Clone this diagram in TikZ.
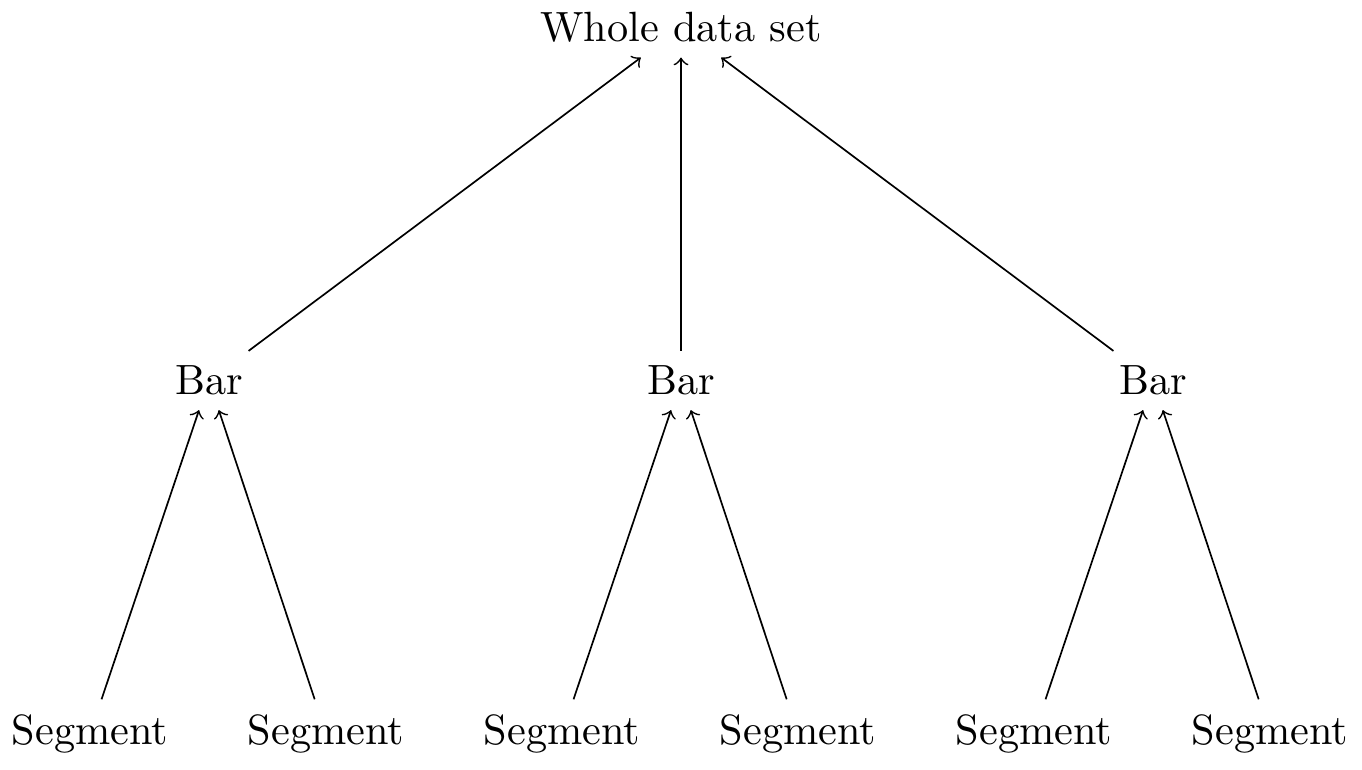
\documentclass[tikz,border=0pt]{standalone}
\begin{document}
\begin{tikzpicture}[x=0.2364pt,y=-0.2364pt,
  lbl/.style={inner sep=3.33pt},
  edge/.style={->}]
\useasboundingbox (0,0) rectangle (1362,769);
\node[lbl] (W) at (681,27.5) {Whole data set};
\node[lbl] (B1) at (209,380.5) {Bar};
\node[lbl] (B2) at (681,380.5) {Bar};
\node[lbl] (B3) at (1153,380.5) {Bar};
\node[lbl] (S1) at (90,733.5) {Segment};
\node[lbl] (S2) at (326,733.5) {Segment};
\node[lbl] (S3) at (562,733.5) {Segment};
\node[lbl] (S4) at (798,733.5) {Segment};
\node[lbl] (S5) at (1034,733.5) {Segment};
\node[lbl] (S6) at (1270,733.5) {Segment};
\draw[edge] (B1) -- (W);
\draw[edge] (B2) -- (W);
\draw[edge] (B3) -- (W);
\draw[edge] (S1) -- (B1);
\draw[edge] (S2) -- (B1);
\draw[edge] (S3) -- (B2);
\draw[edge] (S4) -- (B2);
\draw[edge] (S5) -- (B3);
\draw[edge] (S6) -- (B3);
\end{tikzpicture}
\end{document}
